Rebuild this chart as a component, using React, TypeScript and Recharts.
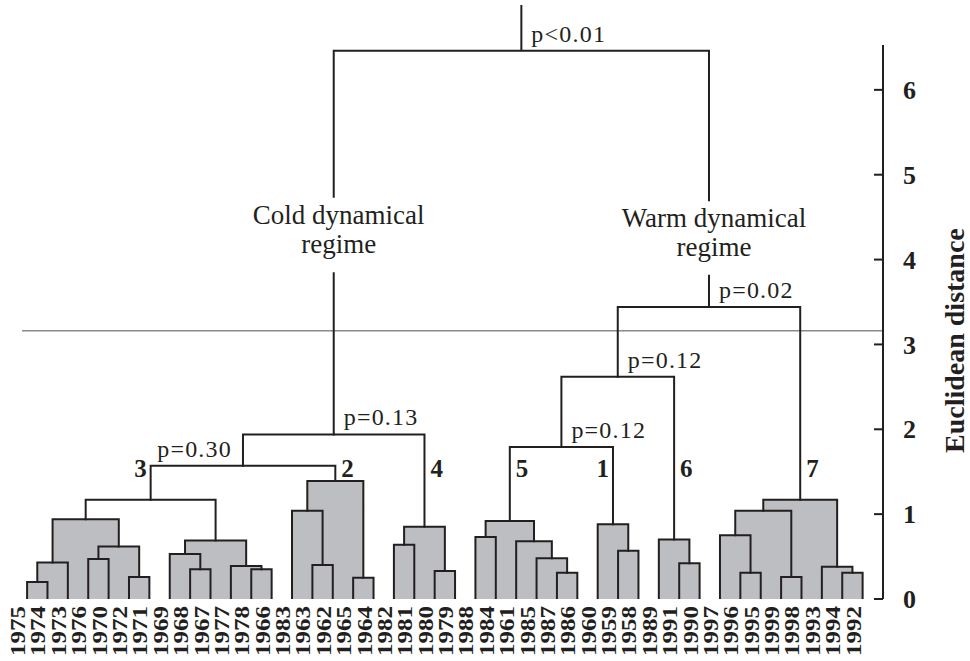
import React from 'react';
import { ComposedChart, XAxis, YAxis, Line, Scatter, ReferenceArea, ReferenceLine } from 'recharts';

// Leaf order (years) along the horizontal axis
const years = [
  1975, 1974, 1973, 1976, 1970, 1972, 1971, 1969, 1968, 1967, 1977, 1978, 1966,
  1983, 1963, 1962, 1965, 1964, 1982, 1981, 1980, 1979, 1988, 1984, 1961, 1985,
  1987, 1986, 1960, 1959, 1958, 1989, 1991, 1990, 1997, 1996, 1995, 1999, 1998,
  1993, 1994, 1992,
];

// Linkage: [child A, child B, merge height]; leaves are 0..41, merges are 42.. in order
const merges: [number, number, number][] = [
  [0, 1, 0.2], // 42
  [42, 2, 0.43], // 43
  [3, 4, 0.47], // 44
  [5, 6, 0.26], // 45
  [44, 45, 0.62], // 46
  [43, 46, 0.94], // 47
  [8, 9, 0.35], // 48
  [7, 48, 0.53], // 49
  [11, 12, 0.35], // 50
  [10, 50, 0.39], // 51
  [49, 51, 0.69], // 52
  [47, 52, 1.17], // 53  cluster 3
  [14, 15, 0.4], // 54
  [13, 54, 1.04], // 55
  [16, 17, 0.25], // 56
  [55, 56, 1.39], // 57  cluster 2
  [53, 57, 1.57], // 58  p=0.30
  [18, 19, 0.64], // 59
  [20, 21, 0.33], // 60
  [59, 60, 0.85], // 61  cluster 4
  [58, 61, 1.94], // 62  p=0.13 (cold)
  [22, 23, 0.73], // 63
  [26, 27, 0.31], // 64
  [25, 64, 0.48], // 65
  [24, 65, 0.68], // 66
  [63, 66, 0.92], // 67  cluster 5
  [29, 30, 0.57], // 68
  [28, 68, 0.88], // 69  cluster 1
  [67, 69, 1.79], // 70  p=0.12
  [32, 33, 0.42], // 71
  [31, 71, 0.7], // 72  cluster 6
  [70, 72, 2.62], // 73  p=0.12
  [35, 36, 0.31], // 74
  [34, 74, 0.75], // 75
  [37, 38, 0.26], // 76
  [75, 76, 1.04], // 77
  [40, 41, 0.31], // 78
  [39, 78, 0.38], // 79
  [77, 79, 1.17], // 80  cluster 7
  [73, 80, 3.44], // 81  p=0.02 (warm)
  [62, 81, 6.46], // 82  p<0.01 (root)
];

// merges drawn without grey shading
const openMerges = [53, 58, 62, 70, 73, 81, 82];

const rootTop = 7.0;
const cutLevel = 3.16;
const distanceTicks = [0, 1, 2, 3, 4, 5, 6];
const axisTop = 6.53;

const pLabels = [
  { node: 82, text: 'p<0.01', side: 'right' },
  { node: 81, text: 'p=0.02', side: 'right' },
  { node: 73, text: 'p=0.12', side: 'right' },
  { node: 70, text: 'p=0.12', side: 'right' },
  { node: 62, text: 'p=0.13', side: 'right' },
  { node: 58, text: 'p=0.30', side: 'left' },
];

const clusterLevel = 1.44;
const clusterLabels = [
  { node: 53, text: '3', side: 'left' },
  { node: 57, text: '2', side: 'right' },
  { node: 61, text: '4', side: 'right' },
  { node: 67, text: '5', side: 'right' },
  { node: 69, text: '1', side: 'left' },
  { node: 72, text: '6', side: 'right' },
  { node: 80, text: '7', side: 'right' },
];

const regimeLabels = [
  { node: 62, lines: ['Cold dynamical', 'regime'], level: 4.42, gap: [3.84, 4.74] },
  { node: 81, lines: ['Warm dynamical', 'regime'], level: 4.38, gap: [3.81, 4.7] },
];

// ---------- derived geometry (data units) ----------
const leafIdx = years.map((_, i) => i);
const nodeX: number[] = [...leafIdx];
const nodeH: number[] = leafIdx.map(() => 0);
merges.forEach(([a, b, h]) => {
  nodeX.push((nodeX[a] + nodeX[b]) / 2);
  nodeH.push(h);
});
const gapOf: Record<number, number[]> = {};
regimeLabels.forEach((r) => (gapOf[r.node] = r.gap));

const links = merges.map(([a, b, h]) => {
  const pts: { x: number; y: number | null }[] = [{ x: nodeX[a], y: nodeH[a] }];
  if (gapOf[a]) {
    pts.push({ x: nodeX[a], y: gapOf[a][0] }, { x: nodeX[a], y: null }, { x: nodeX[a], y: gapOf[a][1] });
  }
  pts.push({ x: nodeX[a], y: h }, { x: nodeX[b], y: h });
  if (gapOf[b]) {
    pts.push({ x: nodeX[b], y: gapOf[b][1] }, { x: nodeX[b], y: null }, { x: nodeX[b], y: gapOf[b][0] });
  }
  pts.push({ x: nodeX[b], y: nodeH[b] });
  return pts;
});
const rootId = years.length + merges.length - 1;
const rootStem = [
  { x: nodeX[rootId], y: nodeH[rootId] },
  { x: nodeX[rootId], y: rootTop },
];

const fills = merges
  .map(([a, b, h], k) => ({ id: years.length + k, x1: nodeX[a], x2: nodeX[b], h }))
  .filter((f) => !openMerges.includes(f.id));

const annotations = [
  ...pLabels.map((p) => ({ x: nodeX[p.node], y: nodeH[p.node], kind: 'p', text: p.text, side: p.side })),
  ...clusterLabels.map((c) => ({ x: nodeX[c.node], y: clusterLevel, kind: 'cluster', text: c.text, side: c.side })),
  ...regimeLabels.map((r) => ({ x: nodeX[r.node], y: r.level, kind: 'regime', lines: r.lines })),
];

// ---------- styling ----------
const SERIF = "'Liberation Serif', 'Times New Roman', Times, serif";
const INK = '#231f20';
const GREY = '#bdbec1';
const Y_TICK_MARGIN = 20;

const YearTick = (props: any) => {
  const { x, y, payload } = props;
  const bx = x - 2;
  return (
    <text
      x={bx}
      y={y}
      transform={`rotate(-90, ${bx}, ${y})`}
      textAnchor="end"
      fontFamily={SERIF}
      fontWeight="bold"
      fontSize={20}
      textLength={50}
      lengthAdjust="spacingAndGlyphs"
      fill={INK}
    >
      {years[payload.value]}
    </text>
  );
};

const DistTick = (props: any) => {
  const { x, y, payload } = props;
  const ax = x - Y_TICK_MARGIN;
  return (
    <g>
      <line x1={ax - 9} x2={ax} y1={y} y2={y} stroke={INK} strokeWidth={2} />
      <text x={x} y={y} dy="0.35em" textAnchor="start" fontFamily={SERIF} fontWeight="bold" fontSize={26} fill={INK}>
        {payload.value}
      </text>
    </g>
  );
};

const TitleLabel = (props: any) => {
  const vb = props.viewBox || { x: 883, y: 5, width: 87, height: 594 };
  const x = vb.x + vb.width - 6;
  const y = vb.y + vb.height * 0.565;
  return (
    <text
      x={x}
      y={y}
      transform={`rotate(-90, ${x}, ${y})`}
      textAnchor="middle"
      fontFamily={SERIF}
      fontWeight="bold"
      fontSize={28}
      fill={INK}
    >
      Euclidean distance
    </text>
  );
};

const renderAnnotation = (props: any) => {
  const { cx, cy, payload } = props;
  if (cx == null || cy == null || !payload) return <g />;
  if (payload.kind === 'p') {
    const right = payload.side === 'right';
    return (
      <text
        x={right ? cx + 10 : cx - 11}
        y={cy - 9}
        textAnchor={right ? 'start' : 'end'}
        fontFamily={SERIF}
        fontSize={24}
        letterSpacing={1.2}
        fill={INK}
      >
        {payload.text}
      </text>
    );
  }
  if (payload.kind === 'cluster') {
    const right = payload.side === 'right';
    return (
      <text
        x={right ? cx + 6 : cx - 4}
        y={cy}
        textAnchor={right ? 'start' : 'end'}
        fontFamily={SERIF}
        fontWeight="bold"
        fontSize={25}
        fill={INK}
      >
        {payload.text}
      </text>
    );
  }
  return (
    <text x={cx + 5} y={cy} textAnchor="middle" fontFamily={SERIF} fontSize={27} fill={INK}>
      {payload.lines.map((l: string, i: number) => (
        <tspan key={i} x={cx + 5} dy={i === 0 ? 0 : 29}>
          {l}
        </tspan>
      ))}
    </text>
  );
};

export default function App() {
  return (
    <div style={{ position: 'absolute', left: 0, top: 0, width: 970, height: 661, background: '#ffffff' }}>
      <ComposedChart width={970} height={661} margin={{ top: 5, right: 0, bottom: 0, left: 22 }}>
        <XAxis
          dataKey="x"
          type="number"
          domain={[-0.25, 42]}
          allowDataOverflow
          ticks={leafIdx}
          interval={0}
          tick={<YearTick />}
          tickLine={false}
          axisLine={false}
          tickSize={0}
          tickMargin={7}
          height={62}
        />
        <YAxis
          orientation="right"
          type="number"
          domain={[0, 7]}
          allowDataOverflow
          ticks={distanceTicks}
          interval={0}
          tick={<DistTick />}
          tickLine={false}
          axisLine={false}
          tickSize={0}
          tickMargin={Y_TICK_MARGIN}
          width={87}
          label={{ content: (p: any) => <TitleLabel {...p} /> }}
        />
        {fills.map((f) => (
          <ReferenceArea
            key={`f${f.id}`}
            x1={f.x1}
            x2={f.x2}
            y1={0}
            y2={f.h}
            fill={GREY}
            fillOpacity={1}
            stroke="none"
            ifOverflow="visible"
          />
        ))}
        <ReferenceLine y={cutLevel} stroke="#8a8a8a" strokeWidth={1.5} />
        {links.map((pts, k) => (
          <Line
            key={`l${k}`}
            data={pts}
            dataKey="y"
            type="linear"
            stroke={INK}
            strokeWidth={2}
            dot={false}
            activeDot={false}
            connectNulls={false}
            isAnimationActive={false}
            strokeLinejoin="miter"
            strokeLinecap="square"
          />
        ))}
        <Line
          data={rootStem}
          dataKey="y"
          type="linear"
          stroke={INK}
          strokeWidth={2}
          dot={false}
          activeDot={false}
          isAnimationActive={false}
        />
        <ReferenceLine segment={[{ x: 42, y: 0 }, { x: 42, y: axisTop }]} stroke={INK} strokeWidth={2} />
        <Scatter data={annotations} dataKey="y" shape={renderAnnotation} isAnimationActive={false} />
      </ComposedChart>
    </div>
  );
}
